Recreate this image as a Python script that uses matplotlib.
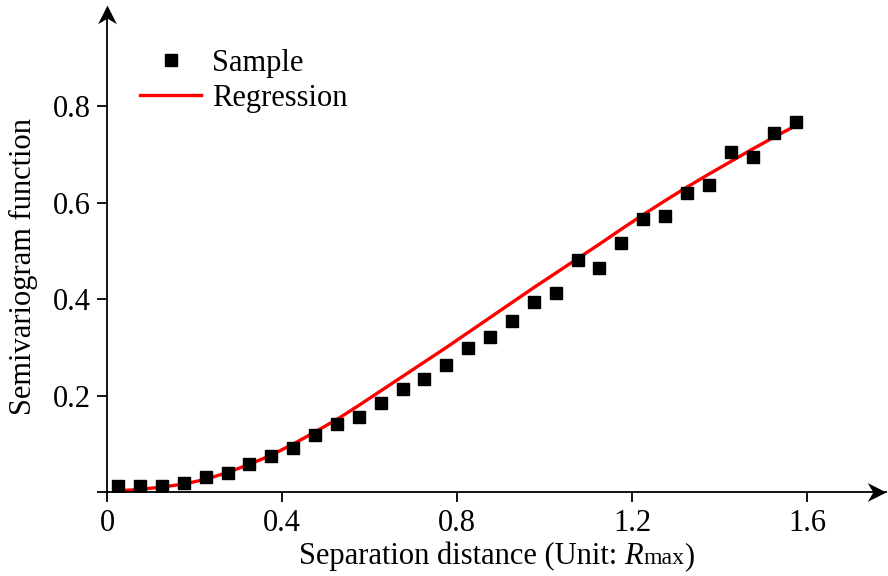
import numpy as np
import matplotlib
matplotlib.use("Agg")
import matplotlib.pyplot as plt
from matplotlib.path import Path
from matplotlib.offsetbox import TextArea, HPacker, AnchoredOffsetbox

plt.rcParams['font.family'] = ['Liberation Serif', 'DejaVu Serif']

# sample semivariogram (separation distance in units of R_max)
lag = [0.025, 0.075, 0.125, 0.175, 0.225, 0.275, 0.325, 0.375,
       0.425, 0.475, 0.525, 0.575, 0.625, 0.675, 0.725, 0.775,
       0.825, 0.875, 0.925, 0.975, 1.025, 1.075, 1.125, 1.175,
       1.225, 1.275, 1.325, 1.375, 1.425, 1.475, 1.525, 1.575]
sample = [0.014, 0.014, 0.014, 0.020, 0.032, 0.040, 0.059, 0.076,
          0.091, 0.119, 0.141, 0.157, 0.186, 0.215, 0.235, 0.264,
          0.299, 0.322, 0.355, 0.395, 0.413, 0.482, 0.465, 0.517,
          0.567, 0.573, 0.619, 0.637, 0.705, 0.695, 0.745, 0.768]

# regression curve read at the same lags
regression = [0.003, 0.006, 0.011, 0.017, 0.027, 0.041, 0.058, 0.077,
              0.100, 0.125, 0.151, 0.180, 0.210, 0.240, 0.270, 0.300,
              0.331, 0.362, 0.393, 0.424, 0.454, 0.484, 0.514, 0.545,
              0.575, 0.604, 0.632, 0.659, 0.685, 0.711, 0.736, 0.760]

xticks = [0, 0.4, 0.8, 1.2, 1.6]
xticklabels = ['0', '0.4', '0.8', '1.2', '1.6']
yticks = [0, 0.2, 0.4, 0.6, 0.8]
yticklabels = ['', '0.2', '0.4', '0.6', '0.8']

FS = 22

fig = plt.figure(figsize=(8.88, 5.76), dpi=100)
ax = fig.add_axes([0.1208, 0.1453, 0.8769, 0.8382])

ax.plot(lag, regression, color='red', lw=2.4, label='Regression', zorder=2)
ax.plot(lag, sample, 's', color='black', ms=8.6, label='Sample', zorder=3)

ax.set_xlim(0, 1.78)
ax.set_ylim(0, 1.0)
ax.set_xticks(xticks)
ax.set_xticklabels(xticklabels)
ax.set_yticks(yticks)
ax.set_yticklabels(yticklabels)
ax.tick_params(direction='out', length=7, width=1.3, labelsize=FS)
ax.tick_params(axis='x', pad=5)
ax.tick_params(axis='y', pad=5)

for s in ['top', 'right']:
    ax.spines[s].set_visible(False)
for s in ['left', 'bottom']:
    ax.spines[s].set_linewidth(1.3)

# stealth arrow heads at the axis ends (tip sits on the plotted point)
right_head = Path([(0, 0), (-2, 1.0), (-1.4, 0), (-2, -1.0), (0, 0)],
                  [Path.MOVETO, Path.LINETO, Path.LINETO, Path.LINETO, Path.CLOSEPOLY])
up_head = Path([(0, 0), (1.0, -2), (0, -1.4), (-1.0, -2), (0, 0)],
               [Path.MOVETO, Path.LINETO, Path.LINETO, Path.LINETO, Path.CLOSEPOLY])
ax.plot([1.0], [0], marker=right_head, ms=27, color='black', mew=0,
        transform=ax.transAxes, clip_on=False)
ax.plot([0], [1.009], marker=up_head, ms=27, color='black', mew=0,
        transform=ax.transAxes, clip_on=False)

handles, labels = ax.get_legend_handles_labels()
ax.legend(handles[::-1], labels[::-1], loc='upper left',
          bbox_to_anchor=(140 / 888, 1 - 49 / 576), bbox_transform=fig.transFigure,
          frameon=False, fontsize=FS, numpoints=1, handlelength=2.0,
          handletextpad=0.35, labelspacing=0.2, borderpad=0, borderaxespad=0)

# x label with small "max"
parts = [
    TextArea('Separation distance (Unit: ', textprops=dict(fontsize=FS)),
    TextArea('R', textprops=dict(fontsize=FS, style='italic')),
    TextArea('max', textprops=dict(fontsize=FS * 0.78)),
    TextArea(')', textprops=dict(fontsize=FS)),
]
box = HPacker(children=parts, align='baseline', pad=0, sep=0)
anchored = AnchoredOffsetbox(loc='upper center', child=box, pad=0, borderpad=0,
                             frameon=False, bbox_to_anchor=(0.5, -0.102),
                             bbox_transform=ax.transAxes)
ax.add_artist(anchored)

fig.text(23 / 888, 1 - 266.5 / 576, 'Semivariogram function', rotation=90,
         ha='center', va='center', fontsize=FS)

fig.savefig('out.png', dpi=100)
